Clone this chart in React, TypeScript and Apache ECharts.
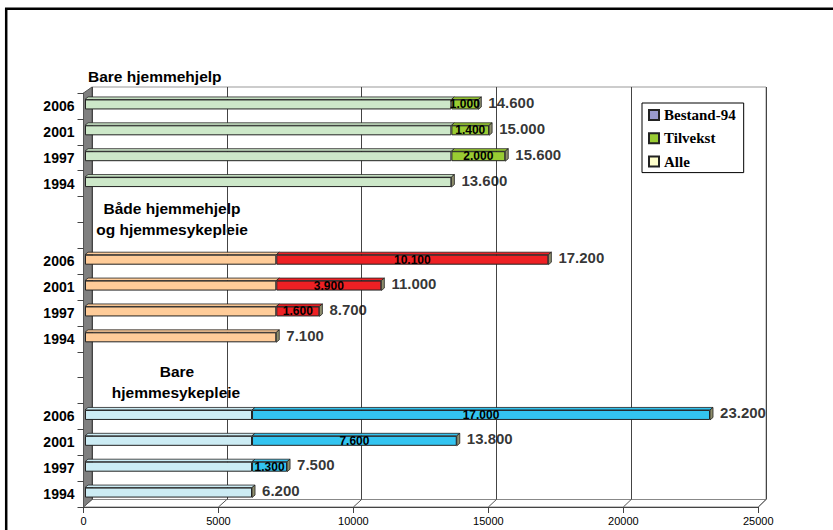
import React, { useEffect, useRef } from "react";
import * as echarts from "echarts";

// ---- data ----
const years = ["1994", "1997", "2001", "2006"];
const sykepleieAlle = [6200, 6200, 6200, 6200];
const sykepleieTilvekst = [0, 1300, 7600, 17000];
const beggeAlle = [7100, 7100, 7100, 7100];
const beggeTilvekst = [0, 1600, 3900, 10100];
const hjelpAlle = [13600, 13600, 13600, 13600];
const hjelpTilvekst = [0, 2000, 1400, 1000];
const xTicks = [0, 5000, 10000, 15000, 20000, 25000];
const legendNames = ["Bestand-94", "Tilvekst", "Alle"];

// ---- styles ----
const groupStyles = [
  { alle: sykepleieAlle, tilv: sykepleieTilvekst, base: "#CCECF4", add: "#33C4F0" },
  { alle: beggeAlle, tilv: beggeTilvekst, base: "#FFCC99", add: "#EE2024" },
  { alle: hjelpAlle, tilv: hjelpTilvekst, base: "#CDE8C9", add: "#99CC33" },
];

const fmt = (v: number) => String(v).replace(/\B(?=(\d{3})+(?!\d))/g, ".");

// layout constants
const FRONT = { left: 83.5, top: 93, width: 674.8, height: 414 };
const BARS = { left: 85, top: 91.5, width: 673.5, height: 414 };
const BACK = { left: 92, top: 87, width: 674, height: 412.5 };
const FONT = '"Liberation Sans", Arial, sans-serif';

export default function App() {
  const ref = useRef<HTMLDivElement>(null);

  useEffect(() => {
    if (!ref.current) return;
    document.body.style.margin = "0";
    const chart = echarts.init(ref.current, undefined, { renderer: "svg" });

    const cats: string[] = [];
    const alleData: any[] = [];
    const tilvData: any[] = [];
    const rowInfo: { alle: number; tilv: number; base: string; add: string }[] = [];
    const customData: number[][] = [];
    const totals: number[][] = [];
    groupStyles.forEach((g, gi) => {
      years.forEach((y, yi) => {
        const idx = cats.length;
        cats.push(y);
        const a = g.alle[yi];
        const t = g.tilv[yi];
        alleData.push({ value: a, itemStyle: { color: g.base } });
        tilvData.push(t ? { value: t, itemStyle: { color: g.add } } : null);
        rowInfo[idx] = { alle: a, tilv: t, base: g.base, add: g.add };
        customData.push([idx, a, t]);
        totals.push([a + t, idx]);
      });
      if (gi < groupStyles.length - 1) {
        for (let k = 0; k < 2; k++) {
          cats.push("");
          alleData.push(null);
          tilvData.push(null);
        }
      }
    });

    const h = 10, dx = 3, dy = 2.5;

    const kb = BACK.width / 25000;
    const kf = FRONT.width / 25000;
    const backBottom = BACK.top + BACK.height;
    const frontBottom = FRONT.top + FRONT.height;
    const floorLines = xTicks.slice(1).map((v) => ({
      type: "line",
      shape: {
        x1: BACK.left + v * kb,
        y1: backBottom,
        x2: FRONT.left + v * kf,
        y2: frontBottom,
      },
      style: { stroke: "#555", lineWidth: 1 },
    }));

    const titleFont = `bold 15.5px ${FONT}`;

    chart.setOption({
      animation: false,
      tooltip: { show: false },
      legend: {
        data: legendNames,
        orient: "vertical",
        left: 642,
        top: 103,
        padding: [4, 8, 3, 6],
        itemGap: 7.3,
        itemWidth: 10,
        itemHeight: 10,
        itemTextGap: 5,
        icon: "rect",
        borderColor: "#000",
        borderWidth: 1,
        selectedMode: false,
        textStyle: {
          fontFamily: '"Liberation Serif", "Times New Roman", serif',
          fontWeight: "bold",
          fontSize: 15,
          lineHeight: 16,
          color: "#000",
        },
      },
      graphic: [
        {
          type: "rect",
          shape: { x: 6.2, y: 8.7, width: 900, height: 600 },
          style: { fill: "none", stroke: "#000", lineWidth: 2.5 },
        },
        {
          type: "polygon",
          shape: {
            points: [
              [FRONT.left, frontBottom],
              [BACK.left, backBottom],
              [BACK.left + BACK.width, backBottom],
              [FRONT.left + FRONT.width, frontBottom],
            ],
          },
          style: { fill: "#fff", stroke: "#888", lineWidth: 1 },
        },
        {
          type: "polygon",
          shape: {
            points: [
              [FRONT.left, FRONT.top],
              [BACK.left, BACK.top],
              [BACK.left, backBottom],
              [FRONT.left, frontBottom],
            ],
          },
          style: { fill: "#808080", stroke: "#555", lineWidth: 1 },
        },
        ...floorLines,
        {
          type: "text",
          style: { text: "Bare hjemmehjelp", x: 88, y: 76, font: titleFont, fill: "#000", textAlign: "left", textVerticalAlign: "middle" },
        },
        {
          type: "text",
          style: { text: "Både hjemmehjelp", x: 172, y: 208, font: titleFont, fill: "#000", textAlign: "center", textVerticalAlign: "middle" },
        },
        {
          type: "text",
          style: { text: "og hjemmesykepleie", x: 172, y: 229, font: titleFont, fill: "#000", textAlign: "center", textVerticalAlign: "middle" },
        },
        {
          type: "text",
          style: { text: "Bare", x: 177, y: 371, font: titleFont, fill: "#000", textAlign: "center", textVerticalAlign: "middle" },
        },
        {
          type: "text",
          style: { text: "hjemmesykepleie", x: 176, y: 392, font: titleFont, fill: "#000", textAlign: "center", textVerticalAlign: "middle" },
        },
      ],
      grid: [
        { ...BACK, show: true, borderColor: "#999", borderWidth: 1, backgroundColor: "transparent" },
        { ...BARS },
        { ...FRONT },
      ],
      xAxis: [
        {
          gridIndex: 0, type: "value", min: 0, max: 25000, interval: 5000,
          axisLine: { show: false }, axisTick: { show: false }, axisLabel: { show: false },
          splitLine: { show: true, lineStyle: { color: "#444", width: 1 } },
        },
        {
          gridIndex: 1, type: "value", min: 0, max: 25000, interval: 5000, show: false,
        },
        {
          gridIndex: 2, type: "value", min: 0, max: 25000, interval: 5000,
          axisLine: { show: true, lineStyle: { color: "#444" } },
          axisTick: { show: true, length: 6, lineStyle: { color: "#444" } },
          splitLine: { show: false },
          axisLabel: {
            fontFamily: FONT, fontSize: 11, color: "#000", margin: 8,
            formatter: (v: number) => String(v),
          },
        },
      ],
      yAxis: [
        { gridIndex: 0, type: "category", data: cats, show: false },
        { gridIndex: 1, type: "category", data: cats, show: false },
        {
          gridIndex: 2, type: "category", data: cats,
          axisLine: { show: true, lineStyle: { color: "#555" } },
          axisTick: { show: true, length: 6, lineStyle: { color: "#444" } },
          splitLine: { show: false },
          axisLabel: { fontFamily: FONT, fontSize: 14, fontWeight: "bold", color: "#000", margin: 9, interval: 0 },
        },
      ],
      series: [
        {
          name: "Bestand-94", type: "bar", xAxisIndex: 1, yAxisIndex: 1, stack: "a",
          barWidth: h, data: cats.map(() => null),
          itemStyle: { color: "#9999CC", borderColor: "#222", borderWidth: 1 },
        },
        {
          name: "Alle", type: "bar", xAxisIndex: 1, yAxisIndex: 1, stack: "a",
          barWidth: h, data: alleData,
          itemStyle: { color: "#FFFFCC", borderColor: "#222", borderWidth: 1 },
        },
        {
          name: "Tilvekst", type: "bar", xAxisIndex: 1, yAxisIndex: 1, stack: "a",
          barWidth: h, data: tilvData,
          itemStyle: { color: "#99CC33", borderColor: "#222", borderWidth: 1 },
          label: {
            show: true, position: "inside", color: "#000",
            fontFamily: FONT, fontSize: 12, fontWeight: "bold",
            formatter: (p: any) => fmt(p.value),
          },
        },
        {
          name: "3d", type: "custom", xAxisIndex: 1, yAxisIndex: 1,
          data: customData, encode: { x: [1, 2], y: 0 }, silent: true,
          renderItem: (_params: any, api: any) => {
            const i = api.value(0);
            const a = api.value(1);
            const t = api.value(2) || 0;
            const info = rowInfo[i];
            const pS = api.coord([0, i]);
            const pA = api.coord([a, i]);
            const pE = api.coord([a + t, i]);
            const yt = pS[1] - h / 2;
            const top = (x0: number, x1: number, fill: string) => ({
              type: "polygon",
              shape: { points: [[x0, yt], [x1, yt], [x1 + dx, yt - dy], [x0 + dx, yt - dy]] },
              style: { fill, stroke: "#222", lineWidth: 0.8 },
            });
            const children: any[] = [top(pS[0], pA[0], info.base)];
            if (t > 0) children.push(top(pA[0], pE[0], info.add));
            children.push({
              type: "polygon",
              shape: { points: [[pE[0], yt], [pE[0] + dx, yt - dy], [pE[0] + dx, yt + h - dy], [pE[0], yt + h]] },
              style: { fill: "#8E8E6C", stroke: "#222", lineWidth: 0.8 },
            });
            return { type: "group", children };
          },
        },
        {
          name: "totals", type: "scatter", xAxisIndex: 1, yAxisIndex: 1,
          data: totals, symbolSize: 0.1, itemStyle: { color: "transparent" }, silent: true,
          label: {
            show: true, position: "right", distance: 10, offset: [0, -2], color: "#000",
            fontFamily: FONT, fontSize: 15, fontWeight: "bold",
            formatter: (p: any) => fmt(p.value[0]),
          },
        },
      ],
    });

    return () => chart.dispose();
  }, []);

  return (
    <div
      ref={ref}
      style={{ position: "relative", width: 833, height: 530, background: "#fff" }}
    />
  );
}
